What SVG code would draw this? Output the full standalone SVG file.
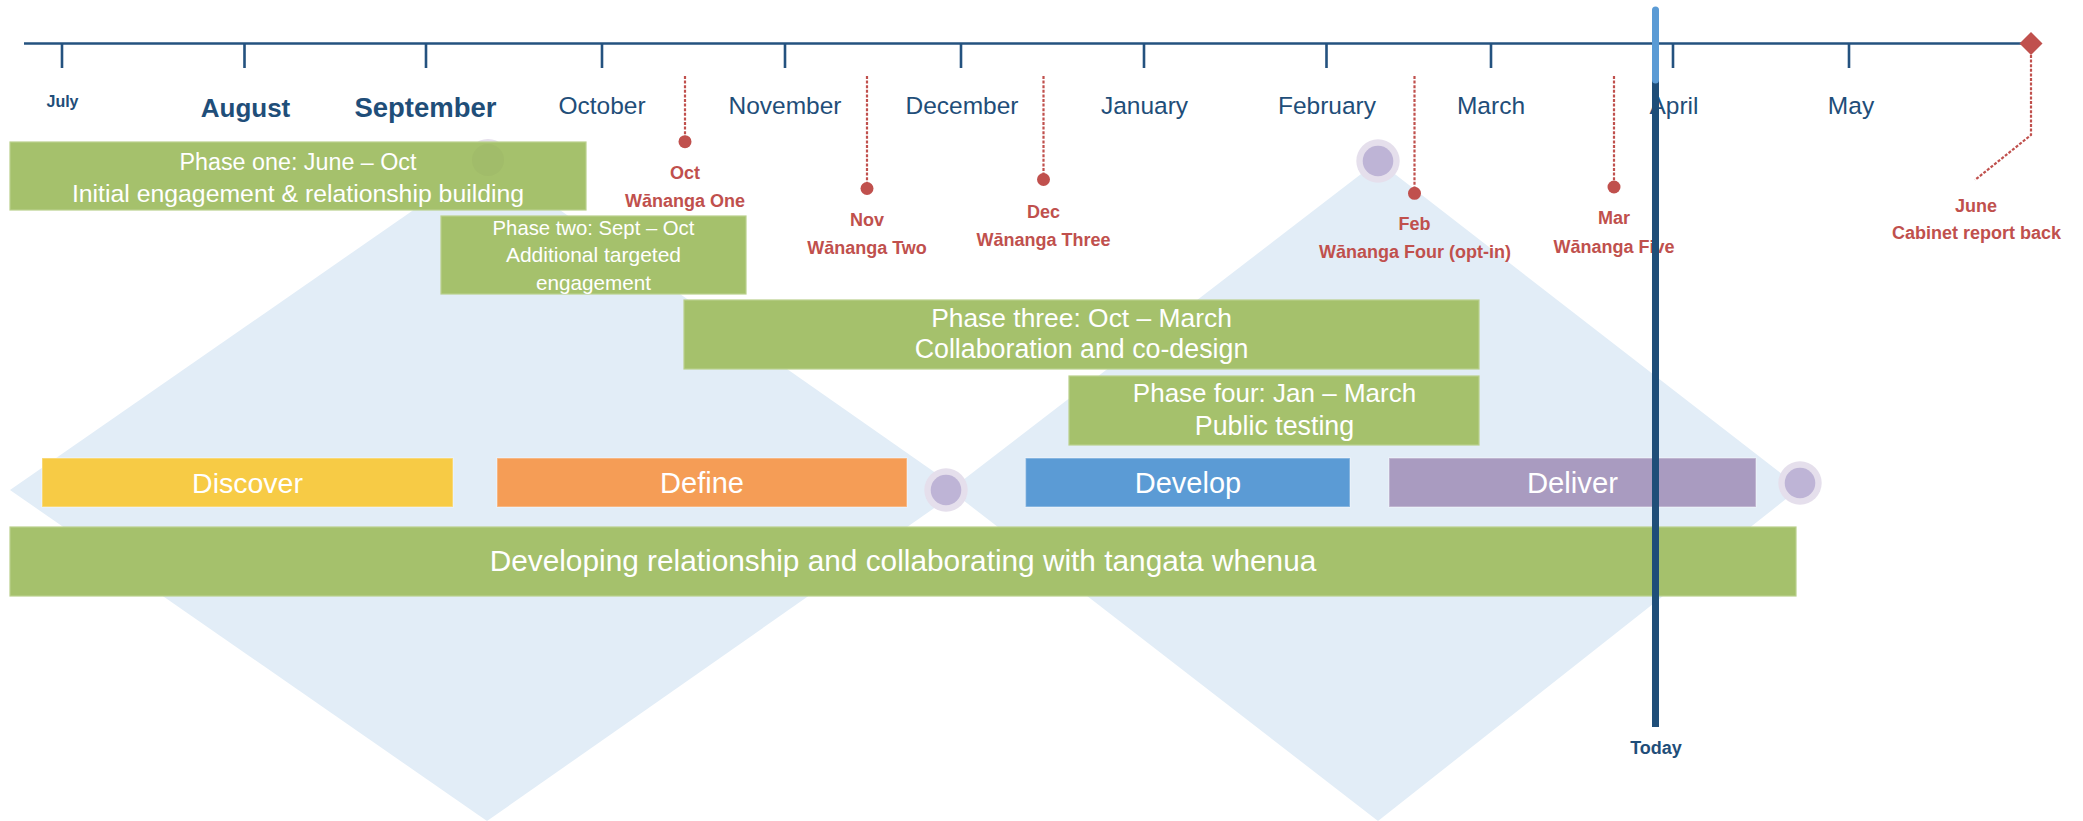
<svg xmlns="http://www.w3.org/2000/svg" width="2083" height="821" viewBox="0 0 2083 821">
<style>
.bg{fill:#fff}
.dia{fill:#E2EDF7}
.ring{fill:#E5DFEC}
.core{fill:#BEB4D6}
.phase{fill:#A5C16C;stroke:#B9D08C;stroke-width:1.2}
.proc{stroke:#fff;stroke-opacity:.35;stroke-width:1.5}
.wt{fill:#fff;font-family:"Liberation Sans",Arial,sans-serif;text-anchor:middle}
.mon{fill:#1F4E79;font-family:"Liberation Sans",Arial,sans-serif;text-anchor:middle;font-size:24.5px}
.monb{fill:#1F4E79;font-family:"Liberation Sans",Arial,sans-serif;text-anchor:middle;font-weight:bold}
.red{fill:#C0504D;font-family:"Liberation Sans",Arial,sans-serif;text-anchor:middle;font-weight:bold;font-size:18px}
.axis{stroke:#24527F;stroke-width:2.6;fill:none}
.dot{stroke:#C0504D;stroke-width:2.2;stroke-dasharray:3 1.6;fill:none}
.pin{fill:#C0504D}
</style>
<rect class="bg" x="0" y="0" width="2083" height="821"/>

<g id="diamonds">
  <polygon id="diamond-one" class="dia" points="487,159 960,490 487,821 10,490"/>
  <polygon id="diamond-two" class="dia" points="1378,161 1800,488 1378,821 950,490"/>
</g>

<g id="circle-phase-one">
  <circle class="ring" cx="488" cy="160" r="21"/>
  <circle class="core" cx="488" cy="160" r="15"/>
</g>

<g id="phase-one">
  <rect class="phase" x="10" y="142" width="576" height="68"/>
  <circle cx="488" cy="160" r="16" fill="#6b7a55" opacity="0.07"/>
  <text class="wt" x="298" y="170" font-size="23.3">Phase one: June – Oct</text>
  <text class="wt" x="298" y="202" font-size="24.8">Initial engagement &amp; relationship building</text>
</g>

<g id="phase-two">
  <rect class="phase" x="441" y="216" width="305" height="78"/>
  <text class="wt" x="593.5" y="234.5" font-size="20.3">Phase two: Sept – Oct</text>
  <text class="wt" x="593.5" y="262" font-size="21">Additional targeted</text>
  <text class="wt" x="593.5" y="289.5" font-size="20.7">engagement</text>
</g>

<g id="phase-three">
  <rect class="phase" x="684" y="300" width="795" height="69"/>
  <text class="wt" x="1081.5" y="326.5" font-size="26.4">Phase three: Oct – March</text>
  <text class="wt" x="1081.5" y="358" font-size="26.8">Collaboration and co-design</text>
</g>

<g id="phase-four">
  <rect class="phase" x="1069" y="376" width="410" height="69"/>
  <text class="wt" x="1274.5" y="401.5" font-size="26">Phase four: Jan – March</text>
  <text class="wt" x="1274.5" y="434.5" font-size="26.8">Public testing</text>
</g>

<g id="discover">
  <rect class="proc" x="42" y="458" width="411" height="49" fill="#F7CB45"/>
  <text class="wt" x="247.5" y="493" font-size="28.5">Discover</text>
</g>
<g id="define">
  <rect class="proc" x="497" y="458" width="410" height="49" fill="#F59D56"/>
  <text class="wt" x="702" y="493" font-size="29">Define</text>
</g>
<g id="circle-define">
  <circle class="ring" cx="946" cy="490" r="21.7"/>
  <circle class="core" cx="946" cy="490" r="15.3"/>
</g>
<g id="develop">
  <rect class="proc" x="1025.5" y="458" width="324.5" height="49" fill="#5B9BD5"/>
  <text class="wt" x="1188" y="493" font-size="29">Develop</text>
</g>
<g id="deliver">
  <rect class="proc" x="1389" y="458" width="367" height="49" fill="#A99BC0"/>
  <text class="wt" x="1572.5" y="493" font-size="29.3">Deliver</text>
</g>
<g id="circle-deliver">
  <circle class="ring" cx="1800" cy="483" r="21.7"/>
  <circle class="core" cx="1800" cy="483" r="15.3"/>
</g>
<g id="circle-feb">
  <circle class="ring" cx="1378" cy="161" r="21.7"/>
  <circle class="core" cx="1378" cy="161" r="15.3"/>
</g>

<g id="relationship-bar">
  <rect class="phase" x="10" y="527" width="1786" height="69"/>
  <text class="wt" x="903" y="571" font-size="29.8">Developing relationship and collaborating with tangata whenua</text>
</g>

<g id="timeline-axis">
  <line class="axis" x1="24" y1="43.5" x2="2031" y2="43.5"/>
  <path class="axis" d="M62,43.5V68M244.5,43.5V68M426,43.5V68M602,43.5V68M785,43.5V68M961,43.5V68M1144,43.5V68M1326.5,43.5V68M1491,43.5V68M1673,43.5V68M1849,43.5V68"/>
</g>

<g id="month-labels">
  <text class="monb" x="62.5" y="106.5" font-size="16">July</text>
  <text class="monb" x="245.5" y="116.5" font-size="26">August</text>
  <text class="monb" x="425.5" y="116.5" font-size="27.5">September</text>
  <text class="mon" x="602" y="114">October</text>
  <text class="mon" x="785" y="114">November</text>
  <text class="mon" x="962" y="114">December</text>
  <text class="mon" x="1144.5" y="114">January</text>
  <text class="mon" x="1327" y="114">February</text>
  <text class="mon" x="1491" y="114">March</text>
  <text class="mon" x="1674" y="114">April</text>
  <text class="mon" x="1851" y="114">May</text>
</g>

<g id="connectors">
  <line class="dot" x1="685" y1="76" x2="685" y2="141"/>
  <line class="dot" x1="867" y1="76" x2="867" y2="188"/>
  <line class="dot" x1="1043.5" y1="76" x2="1043.5" y2="179"/>
  <line class="dot" x1="1414.5" y1="76" x2="1414.5" y2="193"/>
  <line class="dot" x1="1614" y1="76" x2="1614" y2="187"/>
  <polyline class="dot" points="2031,55 2031,135 1975,180"/>
</g>

<g id="milestone-oct">
  <circle class="pin" cx="685" cy="141.7" r="6.5"/>
  <text class="red" x="685" y="179">Oct</text>
  <text class="red" x="685" y="207">Wānanga One</text>
</g>
<g id="milestone-nov">
  <circle class="pin" cx="867" cy="188.5" r="6.5"/>
  <text class="red" x="867" y="226">Nov</text>
  <text class="red" x="867" y="253.5">Wānanga Two</text>
</g>
<g id="milestone-dec">
  <circle class="pin" cx="1043.5" cy="179.5" r="6.5"/>
  <text class="red" x="1043.5" y="217.5">Dec</text>
  <text class="red" x="1043.5" y="246">Wānanga Three</text>
</g>
<g id="milestone-feb">
  <circle class="pin" cx="1414.5" cy="193.3" r="6.5"/>
  <text class="red" x="1414.5" y="229.5">Feb</text>
  <text class="red" x="1415" y="258">Wānanga Four (opt-in)</text>
</g>
<g id="milestone-mar">
  <circle class="pin" cx="1614" cy="187" r="6.5"/>
  <text class="red" x="1614" y="224">Mar</text>
  <text class="red" x="1614" y="252.5">Wānanga Five</text>
</g>
<g id="milestone-june">
  <polygon class="pin" points="2031,32 2042.5,43.5 2031,55 2019.5,43.5"/>
  <text class="red" x="1976" y="211.5">June</text>
  <text class="red" x="1976.5" y="238.5">Cabinet report back</text>
</g>

<g id="today">
  <line x1="1655.5" y1="80" x2="1655.5" y2="727" stroke="#1F4E79" stroke-width="7"/>
  <line x1="1655.5" y1="10" x2="1655.5" y2="80" stroke="#5B9BD5" stroke-width="7" stroke-linecap="round"/>
  <text class="monb" x="1656" y="754" font-size="18">Today</text>
</g>
</svg>
